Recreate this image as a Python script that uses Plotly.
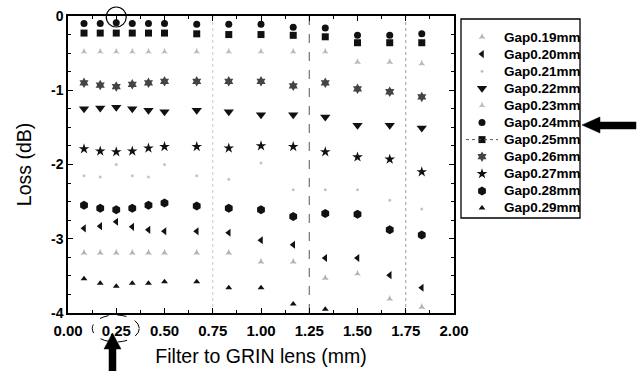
import plotly.graph_objects as go

# ---------------- data ----------------
x_pos = [0.083, 0.167, 0.25, 0.333, 0.417, 0.5, 0.667, 0.833, 1.0, 1.167, 1.333, 1.5, 1.667, 1.833]

g19 = [-3.19, -3.19, -3.19, -3.19, -3.19, -3.19, -3.19, -3.19, -3.31, -3.31, -3.53, -3.47, -3.81, -3.92]
g20 = [-2.86, -2.83, -2.77, -2.84, -2.88, -2.90, -2.90, -2.92, -3.02, -3.08, -3.26, -3.26, -3.49, -3.66]
g21 = [-2.15, -2.17, -2.00, -2.15, -2.17, -2.00, -2.15, -2.20, -1.98, -2.34, -2.34, -2.34, -2.48, -2.60]
g22 = [-1.25, -1.24, -1.23, -1.25, -1.27, -1.29, -1.27, -1.29, -1.33, -1.33, -1.36, -1.47, -1.47, -1.51]
g23 = [-0.48, -0.48, -0.48, -0.48, -0.48, -0.48, -0.48, -0.48, -0.48, -0.48, -0.48, -0.62, -0.62, -0.64]
g24 = [-0.10, -0.10, -0.09, -0.10, -0.10, -0.10, -0.11, -0.11, -0.11, -0.15, -0.16, -0.26, -0.26, -0.24]
g25 = [-0.23, -0.23, -0.23, -0.23, -0.23, -0.23, -0.24, -0.25, -0.25, -0.26, -0.28, -0.36, -0.36, -0.36]
g26 = [-0.90, -0.93, -0.95, -0.92, -0.90, -0.88, -0.88, -0.88, -0.88, -0.94, -0.90, -0.98, -1.02, -1.09]
g27 = [-1.79, -1.82, -1.83, -1.82, -1.78, -1.76, -1.76, -1.78, -1.75, -1.76, -1.83, -1.90, -1.93, -2.10]
g28 = [-2.55, -2.59, -2.61, -2.59, -2.55, -2.52, -2.56, -2.59, -2.61, -2.70, -2.66, -2.67, -2.88, -2.95]
g29 = [-3.54, -3.60, -3.64, -3.60, -3.60, -3.58, -3.58, -3.66, -3.66, -3.88, -3.95, None, None, None]

series_names = ["Gap0.19mm", "Gap0.20mm", "Gap0.21mm", "Gap0.22mm", "Gap0.23mm", "Gap0.24mm",
                "Gap0.25mm", "Gap0.26mm", "Gap0.27mm", "Gap0.28mm", "Gap0.29mm"]
series_values = [g19, g20, g21, g22, g23, g24, g25, g26, g27, g28, g29]

x_tick_vals = [0.0, 0.25, 0.5, 0.75, 1.0, 1.25, 1.5, 1.75, 2.0]
y_tick_vals = [0, -1, -2, -3, -4]

# ---------------- styles ----------------
styles = [
    dict(symbol="star-triangle-up", size=5, color="#b0b0b0"),
    dict(symbol="triangle-left", size=7, color="#111111"),
    dict(symbol="circle", size=3, color="#c4c4c4"),
    dict(symbol="triangle-down", size=9, color="#111111"),
    dict(symbol="star-triangle-up", size=5, color="#b8b8b8"),
    dict(symbol="circle", size=7, color="#111111"),
    dict(symbol="square", size=7, color="#111111"),
    dict(symbol="hexagram", size=8, color="#444444"),
    dict(symbol="star", size=8, color="#111111"),
    dict(symbol="hexagon", size=9, color="#111111"),
    dict(symbol="triangle-up", size=6, color="#111111"),
]

W, H = 643, 371
ML, MR, MT, MB = 68, 63, 16, 58
PW = W - ML - MR
PH = H - MT - MB
PLOT_R = 454  # px right edge of main plot


def px(xp):
    return (xp - ML) / PW


def py(yp):
    return (H - MB - yp) / PH


fig = go.Figure()

for name, vals, st in zip(series_names, series_values, styles):
    fig.add_trace(go.Scatter(
        x=x_pos, y=vals, mode="markers", name=name, showlegend=False,
        marker=dict(symbol=st["symbol"], size=st["size"], color=st["color"],
                    line=dict(width=0)),
        cliponaxis=False, xaxis="x", yaxis="y"))

# ---------- manual legend (pixel-space axes x2/y2) ----------
row0, row_step = 37, 17.1
rows = [row0 + i * row_step for i in range(len(series_names))]
for name, st, r in zip(series_names, styles, rows):
    fig.add_trace(go.Scatter(
        x=[482], y=[r], mode="markers", showlegend=False, hoverinfo="skip",
        marker=dict(symbol=st["symbol"], size=st["size"], color=st["color"], line=dict(width=0)),
        cliponaxis=False, xaxis="x2", yaxis="y2"))

annotations = []
for name, r in zip(series_names, rows):
    annotations.append(dict(
        x=px(502), y=py(r), xref="paper", yref="paper", text="<b>" + name + "</b>", showarrow=False,
        xanchor="left", yanchor="middle",
        font=dict(family="Liberation Sans, Arial", size=13.5, color="black")))

shapes = []
# legend box
shapes.append(dict(type="rect", xref="paper", yref="paper",
                   x0=px(461), x1=px(580), y0=py(218), y1=py(19),
                   line=dict(color="black", width=1.3), fillcolor="rgba(0,0,0,0)"))
# dotted sample for Gap0.25 row
shapes.append(dict(type="line", xref="paper", yref="paper",
                   x0=px(466), x1=px(498), y0=py(rows[6]), y1=py(rows[6]),
                   line=dict(color="#555", width=1, dash="dot")))

# faint dashed grid-like verticals
for xv, col, dash in [(0.75, "#c8c8c8", "dot"), (1.25, "#555555", "dash"), (1.75, "#9a9a9a", "dot")]:
    shapes.append(dict(type="line", xref="x", yref="paper", x0=xv, x1=xv, y0=0, y1=1,
                       line=dict(color=col, width=1, dash=dash), layer="below"))

# circle around best point (Gap0.24 at 0.25)
sx = 193.0  # px per x unit
shapes.append(dict(type="circle", xref="x", yref="paper",
                   x0=0.25 - 10 / sx, x1=0.25 + 10 / sx, y0=py(27), y1=py(7),
                   line=dict(color="black", width=1.2)))
# dashed ellipse around 0.25 tick label
shapes.append(dict(type="circle", xref="x", yref="paper",
                   x0=0.25 - 24 / sx, x1=0.25 + 23 / sx, y0=py(342), y1=py(315),
                   line=dict(color="black", width=1, dash="dash")))


def pth(points):
    return "M " + " L ".join(f"{px(a):.5f},{py(b):.5f}" for a, b in points) + " Z"


# thick up-arrow under 0.25
up_arrow = [(112.5, 333), (121, 349), (116, 349), (116, 371), (109, 371), (109, 349), (104, 349)]
shapes.append(dict(type="path", xref="paper", yref="paper", path=pth(up_arrow),
                   fillcolor="black", line=dict(color="black", width=0.5)))
# thick left-arrow to legend Gap0.24
left_arrow = [(582, 125), (600, 117), (600, 122), (636, 122), (636, 129), (600, 129), (600, 133)]
shapes.append(dict(type="path", xref="paper", yref="paper", path=pth(left_arrow),
                   fillcolor="black", line=dict(color="black", width=0.5)))

tickfont = dict(family="Liberation Sans, Arial", size=15, color="black")
titlefont = dict(family="Liberation Sans, Arial", size=19.5, color="black")

fig.update_layout(
    width=W, height=H,
    margin=dict(l=ML, r=MR, t=MT, b=MB, autoexpand=False),
    paper_bgcolor="white", plot_bgcolor="white",
    showlegend=False,
    xaxis=dict(domain=[0, px(PLOT_R)], range=[0, 2], tickvals=x_tick_vals,
               ticktext=[f"<b>{v:.2f}</b>" for v in x_tick_vals],
               ticks="inside", ticklen=5, tickwidth=1.2, tickcolor="black",
               minor=dict(ticks="inside", ticklen=3, dtick=0.125, tickcolor="black"),
               showline=True, linecolor="black", linewidth=1.5, mirror="ticks",
               showgrid=False, zeroline=False, tickfont=tickfont, anchor="y",
               ticklabelstandoff=3,
               title=dict(text="Filter to GRIN lens (mm)", font=titlefont, standoff=12)),
    yaxis=dict(domain=[0, 1], range=[-4, 0], tickvals=y_tick_vals,
               ticktext=[f"<b>{v}</b>" for v in y_tick_vals],
               ticks="inside", ticklen=5, tickwidth=1.2, tickcolor="black",
               minor=dict(ticks="inside", ticklen=3, dtick=0.25, tickcolor="black"),
               showline=True, linecolor="black", linewidth=1.5, mirror="ticks",
               showgrid=False, zeroline=False,
               tickfont=dict(family="Liberation Sans, Arial", size=14, color="black"),
               anchor="x",
               title=dict(text="Loss (dB)", font=titlefont, standoff=14)),
    xaxis2=dict(domain=[px(461), 1], range=[461, 580], visible=False, anchor="y2"),
    yaxis2=dict(domain=[0, 1], range=[313, 16], visible=False, anchor="x2"),
    annotations=annotations,
    shapes=shapes,
)

fig.write_html("out.html")
